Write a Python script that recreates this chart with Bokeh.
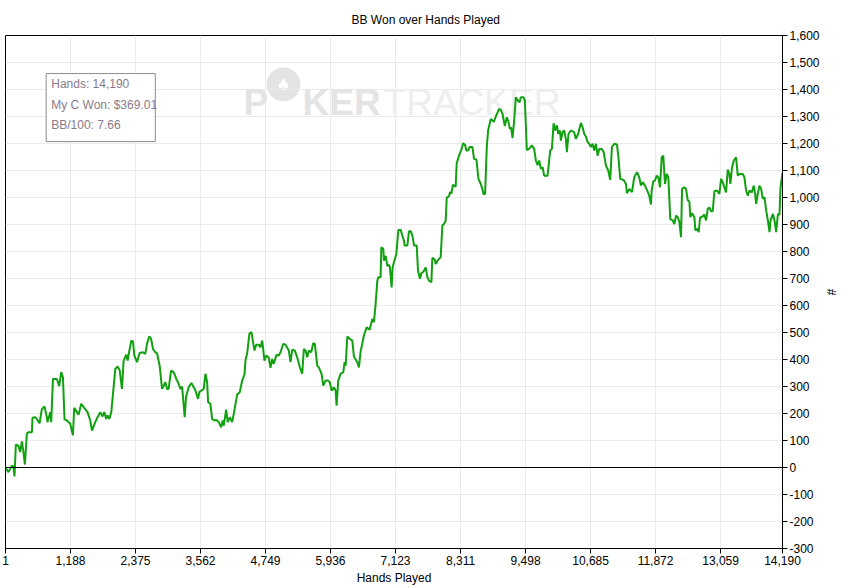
from bokeh.plotting import figure
from bokeh.models import (Range1d, FixedTicker, SingleIntervalTicker,
                          NumeralTickFormatter, Span, Label, BoxAnnotation)
from bokeh.embed import file_html
from bokeh.resources import INLINE

# hands played (x) and cumulative BB won (y)
hands = [
    1, 55, 117, 146, 165, 190, 238, 269, 300, 329,
    355, 391, 421, 483, 494, 543, 574, 622, 666, 713,
    757, 768, 817, 836, 867, 940, 982, 1018, 1050, 1079,
    1123, 1183, 1232, 1256, 1306, 1335, 1384, 1439, 1499, 1549,
    1580, 1640, 1682, 1732, 1774, 1805, 1841, 1865, 1896, 1933,
    1964, 2006, 2048, 2085, 2128, 2158, 2207, 2231, 2249, 2298,
    2329, 2353, 2403, 2450, 2512, 2554, 2585, 2628, 2659, 2695,
    2737, 2768, 2816, 2860, 2889, 2920, 2951, 2980, 3024, 3072,
    3121, 3163, 3194, 3225, 3243, 3273, 3299, 3346, 3396, 3438,
    3469, 3518, 3542, 3580, 3621, 3652, 3683, 3701, 3743, 3774,
    3816, 3853, 3895, 3939, 3968, 3987, 4030, 4060, 4097, 4140,
    4170, 4231, 4279, 4323, 4365, 4383, 4414, 4456, 4493, 4548,
    4579, 4626, 4658, 4689, 4730, 4767, 4809, 4840, 4871, 4900,
    4950, 4992, 5023, 5072, 5114, 5175, 5206, 5237, 5285, 5328,
    5376, 5420, 5449, 5480, 5511, 5540, 5584, 5621, 5650, 5694,
    5723, 5773, 5804, 5846, 5888, 5925, 5956, 5998, 6029, 6047,
    6078, 6120, 6170, 6193, 6212, 6243, 6291, 6334, 6364, 6425,
    6455, 6486, 6516, 6546, 6595, 6650, 6699, 6729, 6760, 6791,
    6809, 6851, 6864, 6900, 6912, 6943, 6974, 7003, 7021, 7052,
    7070, 7094, 7138, 7175, 7217, 7248, 7277, 7290, 7339, 7369,
    7400, 7431, 7461, 7510, 7534, 7570, 7596, 7632, 7674, 7705,
    7735, 7778, 7796, 7839, 7857, 7888, 7948, 7979, 8009, 8040,
    8058, 8100, 8118, 8143, 8173, 8222, 8240, 8282, 8332, 8356,
    8393, 8418, 8448, 8479, 8528, 8557, 8601, 8638, 8680, 8711,
    8729, 8759, 8790, 8814, 8863, 8918, 8955, 9015, 9046, 9077,
    9119, 9156, 9187, 9210, 9234, 9260, 9290, 9320, 9362, 9388,
    9412, 9461, 9485, 9521, 9563, 9613, 9655, 9686, 9717, 9747,
    9778, 9809, 9838, 9900, 9948, 9979, 10010, 10039, 10070, 10094,
    10125, 10143, 10174, 10203, 10234, 10252, 10283, 10325, 10386, 10417,
    10459, 10508, 10539, 10569, 10600, 10631, 10660, 10691, 10722, 10752,
    10783, 10814, 10843, 10887, 10924, 10966, 11008, 11044, 11075, 11117,
    11167, 11191, 11227, 11289, 11331, 11349, 11391, 11441, 11483, 11532,
    11574, 11605, 11636, 11678, 11715, 11757, 11788, 11801, 11830, 11861,
    11892, 11922, 11953, 11984, 12013, 12044, 12075, 12105, 12141, 12185,
    12215, 12246, 12277, 12307, 12337, 12356, 12398, 12429, 12460, 12489,
    12507, 12539, 12581, 12599, 12630, 12660, 12684, 12733, 12762, 12794,
    12825, 12855, 12885, 12916, 12946, 12995, 13037, 13068, 13099, 13128,
    13159, 13190, 13220, 13238, 13269, 13300, 13342, 13373, 13403, 13465,
    13494, 13525, 13556, 13586, 13629, 13666, 13690, 13708, 13739, 13769,
    13800, 13831, 13861, 13892, 13923, 13953, 13971, 14015, 14044, 14075,
    14106, 14135, 14154, 14190,
]
bb_won = [
    0, -17, 7, 3, -33, 85, 81, 57, 97, 57,
    11, 125, 131, 131, 184, 186, 180, 164, 217, 226,
    186, 168, 205, 168, 328, 328, 301, 353, 334, 178,
    174, 162, 119, 221, 205, 195, 236, 221, 205, 174,
    137, 168, 186, 205, 189, 205, 180, 193, 180, 205,
    273, 365, 374, 361, 291, 396, 418, 396, 418, 470,
    467, 415, 390, 424, 427, 421, 458, 486, 477, 439,
    427, 423, 377, 291, 303, 316, 291, 291, 359, 353,
    328, 310, 291, 300, 260, 186, 263, 297, 313, 297,
    285, 254, 280, 285, 291, 347, 316, 242, 236, 180,
    174, 176, 168, 149, 174, 155, 214, 168, 186, 168,
    199, 270, 279, 322, 344, 396, 423, 497, 501, 433,
    455, 455, 445, 470, 396, 415, 407, 369, 402, 384,
    417, 415, 427, 458, 455, 433, 390, 436, 433, 408,
    371, 347, 439, 433, 408, 433, 427, 460, 458, 377,
    371, 347, 303, 322, 322, 316, 285, 297, 285, 229,
    322, 347, 353, 390, 377, 485, 476, 470, 411, 390,
    371, 430, 458, 489, 519, 510, 550, 538, 606, 692,
    705, 705, 816, 810, 766, 784, 747, 750, 741, 667,
    741, 760, 791, 880, 880, 859, 840, 822, 822, 875,
    875, 860, 822, 822, 730, 699, 720, 725, 741, 705,
    692, 686, 777, 770, 754, 765, 779, 896, 902, 915,
    999, 1005, 1020, 1015, 1047, 1040, 1126, 1155, 1180, 1201,
    1195, 1174, 1174, 1187, 1187, 1143, 1140, 1069, 1050, 1030,
    1013, 1013, 1187, 1248, 1291, 1280, 1300, 1328, 1324, 1310,
    1265, 1297, 1280, 1254, 1260, 1220, 1285, 1371, 1358, 1353,
    1371, 1371, 1360, 1176, 1180, 1193, 1180, 1137, 1120, 1137,
    1106, 1112, 1081, 1081, 1174, 1180, 1275, 1248, 1267, 1236,
    1248, 1211, 1242, 1248, 1217, 1168, 1236, 1248, 1242, 1217,
    1236, 1276, 1261, 1236, 1226, 1205, 1199, 1187, 1199, 1174,
    1199, 1155, 1180, 1180, 1168, 1118, 1100, 1065, 1187, 1199,
    1196, 1155, 1069, 1065, 1050, 1016, 1032, 1020, 1075, 1094,
    1075, 1044, 1057, 1044, 1028, 1007, 974, 1026, 1060, 1063,
    1081, 1075, 1038, 1149, 1155, 1050, 1087, 1075, 920, 915,
    902, 933, 927, 909, 853, 1032, 1038, 1032, 989, 986,
    927, 942, 927, 878, 884, 872, 925, 930, 937, 915,
    958, 963, 949, 949, 1023, 1026, 1013, 1069, 1056, 1038,
    1019, 1103, 1087, 1050, 1112, 1137, 1149, 1081, 1087, 1087,
    1075, 1026, 1007, 1026, 1019, 1044, 1013, 976, 1013, 1044,
    1032, 995, 1001, 952, 915, 872, 915, 939, 915, 872,
    939, 936, 1038, 1090,
]

x_ticks = [1, 1188, 2375, 3562, 4749, 5936, 7123, 8311, 9498, 10685, 11872, 13059, 14190]
info_lines = ["Hands: 14,190", "My C Won: $369.01", "BB/100: 7.66"]

FONT = "Liberation Sans"

p = figure(width=848, height=588, output_backend="svg", toolbar_location=None,
           x_range=Range1d(1, 14190), y_range=Range1d(-300, 1600),
           y_axis_location="right", title="BB Won over Hands Played",
           min_border_left=5, min_border_right=66, min_border_top=35,
           min_border_bottom=40)

# title is centred on the whole image, not on the frame
p.title.align = "left"
p.title.offset = 346
p.title.standoff = 18
p.title.text_font = FONT
p.title.text_font_size = "12px"
p.title.text_font_style = "normal"
p.title.text_color = "black"

p.outline_line_color = "black"
p.outline_line_alpha = 1
p.outline_line_width = 1

p.xaxis.ticker = FixedTicker(ticks=x_ticks)
p.xaxis.formatter = NumeralTickFormatter(format="0,0")
p.xaxis.axis_label = "Hands Played"
p.yaxis.ticker = SingleIntervalTicker(interval=100)
p.yaxis.formatter = NumeralTickFormatter(format="0,0")
p.yaxis.axis_label = "#"

for ax in (p.xaxis, p.yaxis):
    ax.axis_line_color = "black"
    ax.major_tick_line_color = "black"
    ax.major_tick_out = 5
    ax.major_tick_in = 0
    ax.minor_tick_line_color = None
    ax.major_label_text_font = FONT
    ax.major_label_text_font_size = "12px"
    ax.major_label_text_color = "black"
    ax.major_label_standoff = 2
    ax.axis_label_text_font = FONT
    ax.axis_label_text_font_size = "12px"
    ax.axis_label_text_font_style = "normal"
    ax.axis_label_text_color = "black"
    ax.axis_label_standoff = 3

p.yaxis.major_label_orientation = "horizontal"
p.yaxis.axis_label_standoff = 1
p.xgrid.ticker = FixedTicker(ticks=x_ticks)
p.grid.grid_line_color = "#ebebeb"
p.grid.grid_line_width = 1

# faint watermark
wm_y = 1352
for txt, xpos, style, col in [("P", 4346, "bold", "#e4e4e4"),
                              ("KER", 5425, "bold", "#e4e4e4"),
                              ("TRACKER", 6906, "normal", "#eeeeee")]:
    p.add_layout(Label(x=xpos, y=wm_y, text=txt, text_font=FONT, text_font_size="37px",
                       text_font_style=style, text_color=col, text_baseline="alphabetic",
                       level="underlay"))
p.scatter(x=[5078], y=[1419], size=34, marker="circle", fill_color="#e4e4e4",
          line_color=None, level="underlay")
p.add_layout(Label(x=5078, y=1419, text="\u2660", text_font="DejaVu Sans",
                   text_font_size="16px", text_color="white", text_align="center",
                   text_baseline="middle", level="underlay"))

p.add_layout(Span(location=0, dimension="width", line_color="black", line_width=1))

p.line(hands, bb_won, line_color="#10a010", line_width=2)

# info box
p.add_layout(BoxAnnotation(left=744, right=2737, top=1459, bottom=1207,
                           fill_color="white", fill_alpha=1,
                           line_color="#8c8c8c", line_width=1, line_alpha=1))
for i, txt in enumerate(info_lines):
    p.add_layout(Label(x=836, y=1419 - 75 * i, text=txt, text_font=FONT,
                       text_font_size="12px", text_color="#8a7a8c",
                       text_baseline="middle"))

open("out.html", "w").write(file_html(p, INLINE))
